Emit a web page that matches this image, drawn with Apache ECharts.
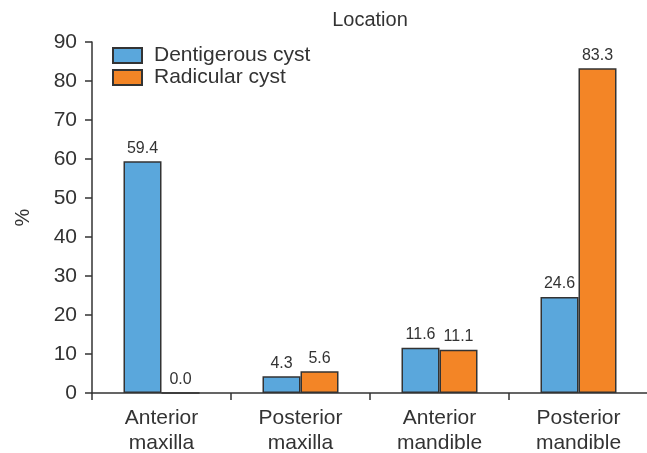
<!DOCTYPE html>
<html><head><meta charset="utf-8">
<script src="https://cdn.jsdelivr.net/npm/echarts@6/dist/echarts.min.js"></script>
<style>html,body{margin:0;padding:0;background:#fff}#c{width:647px;height:453px}</style>
</head><body><div id="c"></div>
<script>
const categories = ['Anterior\nmaxilla', 'Posterior\nmaxilla', 'Anterior\nmandible', 'Posterior\nmandible'];
const dentigerous = [59.4, 4.3, 11.6, 24.6];
const radicular = [0.0, 5.6, 11.1, 83.3];
const seriesNames = ['Dentigerous cyst', 'Radicular cyst'];
const yTicks = {min: 0, max: 90, interval: 10};

const FONT = 'Liberation Sans, Arial, sans-serif';
const chart = echarts.init(document.getElementById('c'), null, {renderer: 'canvas'});
const lbl = {show: true, position: 'top', distance: 5, fontSize: 16, color: '#333', fontFamily: FONT,
  formatter: p => p.value.toFixed(1)};
chart.setOption({
  animation: false,
  title: {text: 'Location', left: 365, top: 5, textAlign: 'center',
    textStyle: {fontSize: 20, fontWeight: 'normal', color: '#333', fontFamily: FONT}},
  legend: {orient: 'vertical', left: 107, top: 40, itemWidth: 29, itemHeight: 15, itemGap: 1,
    icon: 'rect',
    textStyle: {fontSize: 21, color: '#333', fontFamily: FONT, lineHeight: 15, padding: [0,0,0,7]},
    data: seriesNames},
  grid: {left: 92, top: 42, width: 556, height: 351, containLabel: false, outerBoundsMode: 'none'},
  xAxis: {type: 'category', data: categories,
    axisLine: {lineStyle: {color: '#333', width: 1.5}},
    axisTick: {show: true, length: 7, lineStyle: {color: '#333', width: 1.5}},
    axisLabel: {fontSize: 21, color: '#333', fontFamily: FONT, lineHeight: 25, margin: 13}},
  yAxis: {type: 'value', min: yTicks.min, max: yTicks.max, interval: yTicks.interval,
    name: '%', nameLocation: 'middle', nameGap: 59, nameRotate: 90,
    nameTextStyle: {fontSize: 20, color: '#333', fontFamily: FONT},
    splitLine: {show: false},
    axisLine: {show: true, lineStyle: {color: '#333', width: 1.5}},
    axisTick: {show: true, length: 7, lineStyle: {color: '#333', width: 1.5}},
    axisLabel: {fontSize: 21, color: '#333', fontFamily: FONT, margin: 15}},
  series: [
    {name: seriesNames[0], type: 'bar', data: dentigerous, barWidth: 38, barGap: '0%',
      itemStyle: {color: '#5aa7dc', borderColor: '#333', borderWidth: 1.5}, label: lbl},
    {name: seriesNames[1], type: 'bar', data: radicular, barWidth: 38, barGap: '0%',
      itemStyle: {color: '#f38526', borderColor: '#333', borderWidth: 1.5}, label: lbl}
  ]
});
</script></body></html>
